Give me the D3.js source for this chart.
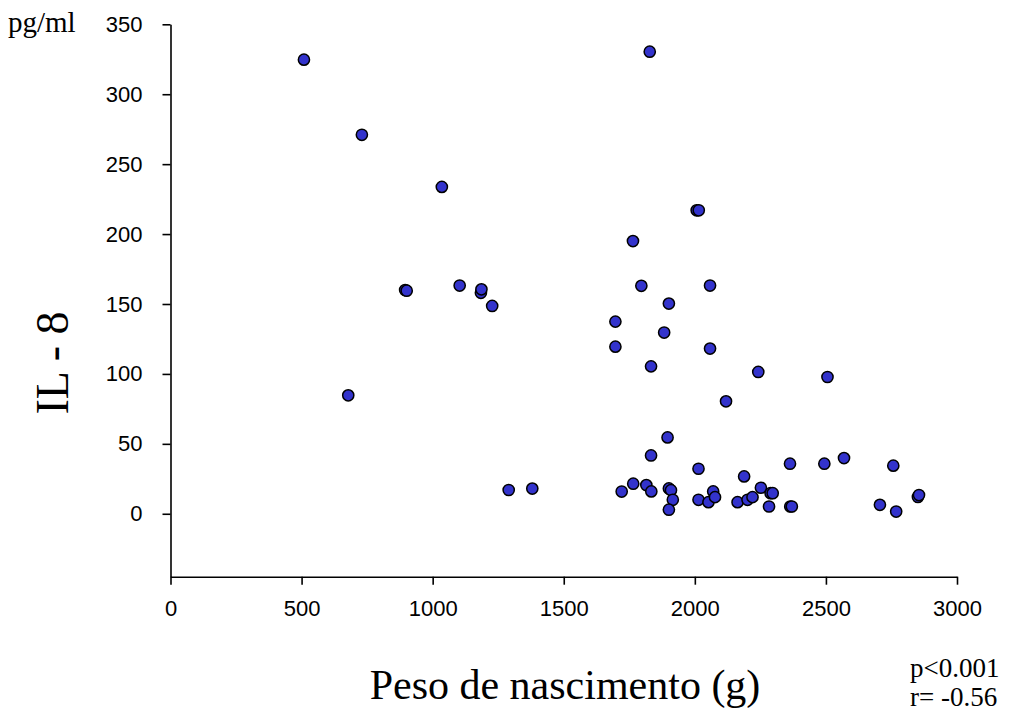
<!DOCTYPE html>
<html>
<head>
<meta charset="utf-8">
<script src="https://cdn.jsdelivr.net/npm/d3@7.9.0/dist/d3.min.js"></script>
<style>
  body { margin: 0; background: #fff; }
  svg { display: block; }
  .tick text { font-family: "Liberation Sans", Arial, sans-serif; font-size: 22px; fill: #000; }
  .serif { font-family: "Liberation Serif", "Times New Roman", serif; fill: #000; }
</style>
</head>
<body>
<svg width="1009" height="720"></svg>
<script>
// birth weight (g) and IL-8 (pg/ml)
const peso = [
  509, 730, 1035, 678, 895, 901, 1103, 1184, 1186, 1227,
  1290, 1380, 1697, 1697, 1721, 1765, 1764, 1796, 1815, 1828,
  1833, 1834, 1833, 1883, 1896, 1901, 1901, 1909, 1916, 1901,
  2007, 2015, 2014, 2014, 2052, 2058, 2058, 2070, 2077, 2119,
  2163, 2188, 2201, 2220, 2242, 2252, 2283, 2289, 2297, 2363,
  2364, 2370, 2494, 2506, 2569, 2706, 2757, 2768, 2851, 2855
];
const il8 = [
  324.7, 271, 233.7, 84.7, 160, 159.5, 163.2, 158, 160.5, 148.6,
  17, 18, 137.4, 119.5, 15.9, 21.5, 195, 163, 20.5, 330.4,
  105.4, 16, 41.7, 129.6, 54.6, 150.3, 18.1, 16.9, 10, 2.9,
  217, 217, 32.2, 10, 8.3, 163.2, 118.1, 16, 11.9, 80.4,
  8.3, 26.7, 10, 11.9, 101.4, 18.6, 5.2, 14.7, 14.7, 35.8,
  5.2, 5.2, 35.8, 97.8, 39.8, 6.4, 34.4, 1.6, 12, 13.4
];
const xTicks = [0, 500, 1000, 1500, 2000, 2500, 3000];
const yTicks = [0, 50, 100, 150, 200, 250, 300, 350];

const svg = d3.select('svg');

const x = d3.scaleLinear().domain([0, 3000]).range([170.5, 957]);
const y = d3.scaleLinear().domain([-45, 350]).range([576.7, 24.3]);

// axes
const yAxis = svg.append('g')
    .attr('transform', `translate(${x(0)},0)`)
    .call(d3.axisLeft(y).tickValues(yTicks).tickFormat(d3.format('d'))
        .tickSize(8).tickSizeOuter(0).tickPadding(20));
const xAxis = svg.append('g')
    .attr('transform', `translate(0,${y(-45)})`)
    .call(d3.axisBottom(x).tickValues(xTicks).tickFormat(d3.format('d'))
        .tickSize(8).tickSizeOuter(0).tickPadding(16));

[xAxis, yAxis].forEach(a => {
    a.select('.domain').attr('stroke', '#000').attr('stroke-width', 1.6);
    a.selectAll('.tick line').attr('stroke', '#000').attr('stroke-width', 1.6);
});

// points
const data = peso.map((p, i) => ({ p: p, v: il8[i] }));
svg.append('g').selectAll('circle')
    .data(data)
    .join('circle')
    .attr('cx', d => x(d.p))
    .attr('cy', d => y(d.v))
    .attr('r', 5.6)
    .attr('fill', '#3333cc')
    .attr('stroke', '#000')
    .attr('stroke-width', 1.5);

// labels
svg.append('text').attr('class', 'serif')
    .attr('x', 8).attr('y', 32)
    .style('font-size', '29px')
    .text('pg/ml');

svg.append('text').attr('class', 'serif')
    .attr('transform', 'translate(68,363) rotate(-90)')
    .attr('text-anchor', 'middle')
    .style('font-size', '46px')
    .text('IL - 8');

svg.append('text').attr('class', 'serif')
    .attr('x', 565).attr('y', 699)
    .attr('text-anchor', 'middle')
    .style('font-size', '42px')
    .text('Peso de nascimento (g)');

svg.append('text').attr('class', 'serif')
    .attr('x', 910).attr('y', 677)
    .style('font-size', '27px')
    .text('p<0.001');
svg.append('text').attr('class', 'serif')
    .attr('x', 910).attr('y', 706)
    .style('font-size', '27px')
    .text('r= -0.56');
</script>
</body>
</html>
